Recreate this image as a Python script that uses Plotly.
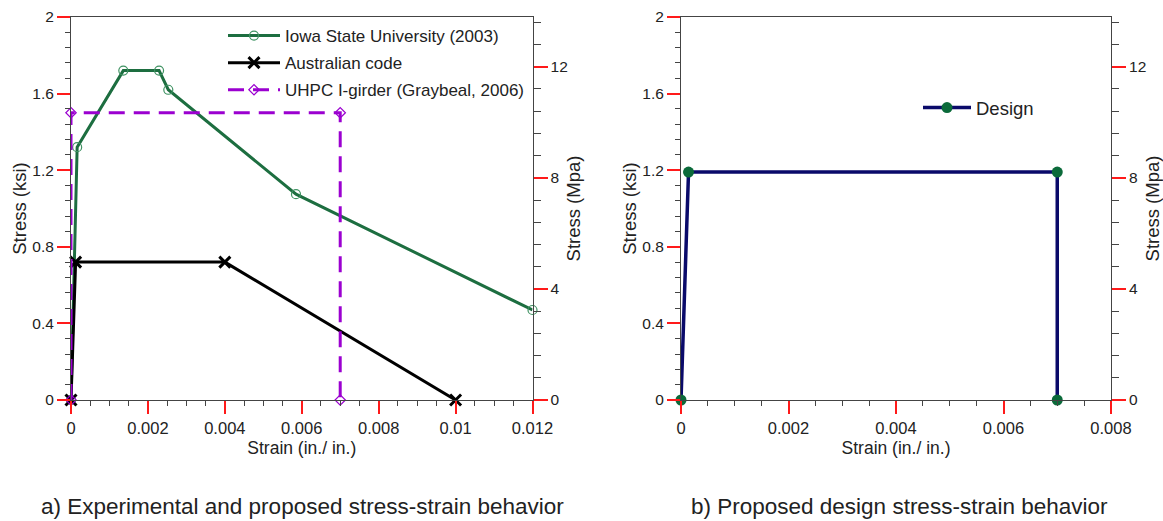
import plotly.graph_objects as go

# ---------------- data ----------------
KSI_TO_MPA = 6.894757

iowa_strain = [0.0, 0.00016, 0.00136, 0.00229, 0.00253, 0.00585, 0.012]
iowa_stress = [0.0, 1.32, 1.72, 1.72, 1.62, 1.075, 0.47]

aus_strain = [0.0, 0.00012, 0.004, 0.01]
aus_stress = [0.0, 0.72, 0.72, 0.0]

uhpc_strain = [0.0, 0.0, 0.007, 0.007]
uhpc_stress = [0.0, 1.5, 1.5, 0.0]

design_strain = [0.0, 0.00014, 0.007, 0.007]
design_stress = [0.0, 1.19, 1.19, 0.0]

series_names = ["Iowa State University (2003)", "Australian code",
                "UHPC I-girder (Graybeal, 2006)", "Design"]
captions = ["a) Experimental and proposed stress-strain behavior",
            "b) Proposed design stress-strain behavior"]
x_title = "Strain (in./ in.)"
y_title_ksi = "Stress (ksi)"
y_title_mpa = "Stress (Mpa)"

# ---------------- style ----------------
FONT = "Arial, Liberation Sans, sans-serif"
W, H = 1163, 521
GREEN = "#1d6e40"
GREEN_M = "#3f9262"
PURPLE = "#9b00d0"
NAVY = "#0a0a6a"
DGREEN = "#0b6a3a"
AXC = "#444444"
RED = "#ff1a1a"

yb, yt = 1 - 400 / H, 1 - 17 / H
xa = [71 / W, 532.5 / W]
xb = [681 / W, 1111 / W]

fig = go.Figure()

fig.add_trace(go.Scatter(
    x=iowa_strain, y=iowa_stress, name=series_names[0], mode="lines+markers",
    line=dict(color=GREEN, width=3),
    marker=dict(symbol="circle-open", size=9, color=GREEN_M, line=dict(width=1.2)),
    xaxis="x", yaxis="y", legend="legend", legendgroup="a", cliponaxis=False))
fig.add_trace(go.Scatter(
    x=aus_strain, y=aus_stress, name=series_names[1], mode="lines+markers",
    line=dict(color="black", width=3),
    marker=dict(symbol="x-thin", size=11, color="black", line=dict(width=3, color="black")),
    xaxis="x", yaxis="y", legend="legend", legendgroup="b", cliponaxis=False))
fig.add_trace(go.Scatter(
    x=uhpc_strain, y=uhpc_stress, name=series_names[2], mode="lines+markers",
    line=dict(color=PURPLE, width=3, dash="16px,9px"),
    marker=dict(symbol="diamond-open", size=8, color=PURPLE, line=dict(width=1.2)),
    xaxis="x", yaxis="y", legend="legend", legendgroup="c", cliponaxis=False))
fig.add_trace(go.Scatter(
    x=design_strain, y=design_stress, name=series_names[3], mode="lines+markers",
    line=dict(color=NAVY, width=3.5),
    marker=dict(symbol="circle", size=11, color=DGREEN),
    xaxis="x2", yaxis="y3", legend="legend2", cliponaxis=False))

# empty traces so the MPa axes are drawn
fig.add_trace(go.Scatter(x=[], y=[], xaxis="x", yaxis="y2", showlegend=False, hoverinfo="skip"))
fig.add_trace(go.Scatter(x=[], y=[], xaxis="x2", yaxis="y4", showlegend=False, hoverinfo="skip"))


def xaxis_cfg(domain, xmax, anchor):
    return dict(
        domain=domain, range=[0, xmax], anchor=anchor,
        tickmode="linear", tick0=0, dtick=0.002,
        ticks="outside", ticklen=13, tickwidth=2, tickcolor=RED,
        minor=dict(ticks="outside", ticklen=5, tickwidth=1, tickcolor=AXC,
                   tickmode="linear", tick0=0, dtick=0.0005, showgrid=False),
        showline=True, linecolor=AXC, linewidth=1, mirror=True,
        showgrid=False, zeroline=False, automargin=False,
        tickfont=dict(family=FONT, size=16.5, color="#222"),
        title=dict(text=x_title, font=dict(family=FONT, size=17.5, color="#222"), standoff=5),
    )


def yaxis_ksi(anchor):
    return dict(
        domain=[yb, yt], range=[0, 2], anchor=anchor,
        tickmode="linear", tick0=0, dtick=0.4,
        ticks="outside", ticklen=13, tickwidth=2, tickcolor=RED,
        minor=dict(ticks="outside", ticklen=5, tickwidth=1, tickcolor=AXC,
                   tickmode="linear", tick0=0, dtick=0.08, showgrid=False),
        showline=True, linecolor=AXC, linewidth=1,
        showgrid=False, zeroline=False, automargin=False,
        tickfont=dict(family=FONT, size=15.5, color="#222"),
        title=dict(text=y_title_ksi, font=dict(family=FONT, size=18.5, color="#222"), standoff=0),
    )


def yaxis_mpa(anchor, over):
    return dict(
        overlaying=over, side="right", anchor=anchor,
        range=[0, 2 * KSI_TO_MPA],
        tickmode="linear", tick0=0, dtick=4,
        ticks="outside", ticklen=14, tickwidth=2, tickcolor=RED,
        minor=dict(ticks="outside", ticklen=7, tickwidth=1, tickcolor=AXC,
                   tickmode="linear", tick0=0, dtick=0.8, showgrid=False),
        showline=True, linecolor=AXC, linewidth=1,
        showgrid=False, zeroline=False, automargin=False,
        tickfont=dict(family=FONT, size=15.5, color="#222"),
        title=dict(text=y_title_mpa, font=dict(family=FONT, size=18.5, color="#222"), standoff=0),
    )


fig.update_layout(
    width=W, height=H, autosize=False,
    margin=dict(l=0, r=0, t=0, b=0),
    paper_bgcolor="white", plot_bgcolor="white",
    font=dict(family=FONT, color="#222"),
    xaxis=xaxis_cfg(xa, 0.012, "y"),
    yaxis=yaxis_ksi("x"),
    yaxis2=yaxis_mpa("x", "y"),
    xaxis2=xaxis_cfg(xb, 0.008, "y3"),
    yaxis3=yaxis_ksi("x2"),
    yaxis4=yaxis_mpa("x2", "y3"),
    legend=dict(x=223 / W, y=1 - 18 / H, xanchor="left", yanchor="top",
                bgcolor="rgba(0,0,0,0)", borderwidth=0,
                font=dict(family=FONT, size=17, color="#222"),
                itemwidth=52, traceorder="grouped", tracegroupgap=2),
    legend2=dict(x=918 / W, y=1 - 108 / H, xanchor="left", yanchor="middle",
                 bgcolor="rgba(0,0,0,0)", borderwidth=0,
                 font=dict(family=FONT, size=18.5, color="#222"),
                 itemwidth=48),
    showlegend=True,
)

for cx, txt in zip([302 / W, 899 / W], captions):
    fig.add_annotation(x=cx, y=1 - 506 / H, xref="paper", yref="paper",
                       xanchor="center", yanchor="middle", showarrow=False,
                       text=txt, font=dict(family=FONT, size=22.5, color="#222"))

fig.write_html("out.html",
               config={"displayModeBar": False},
               post_script="document.body.style.margin='0';document.body.style.overflow='hidden';")
